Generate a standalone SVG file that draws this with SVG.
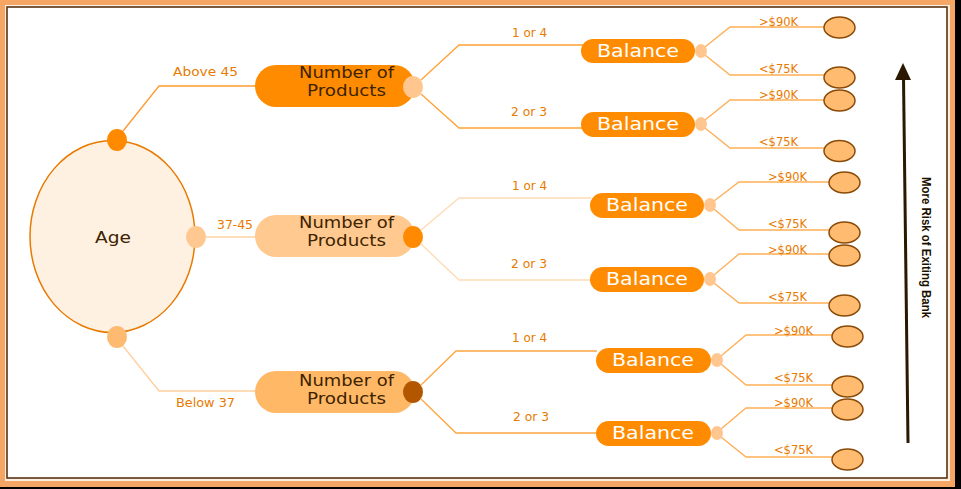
<svg xmlns="http://www.w3.org/2000/svg" width="961" height="489" viewBox="0 0 961 489">
<style>
.lbl{font-family:"DejaVu Sans",sans-serif;font-size:12px;fill:#E87A00;text-anchor:middle}
.leaf{font-family:"DejaVu Sans",sans-serif;font-size:12.5px;fill:#E87A00;text-anchor:middle}
.np{font-family:"DejaVu Sans",sans-serif;font-size:15.5px;fill:#3D2300;text-anchor:middle}
.bal{font-family:"DejaVu Sans",sans-serif;font-size:17.5px;fill:#FFFFFF;text-anchor:middle}
.bnode{fill:#FF8C00}
.bdot{fill:#FFC78F}
.leafE{fill:#FFBC70;stroke:#8A4A08;stroke-width:1.5}
.c{fill:none;stroke-width:1.3}
</style>
<rect x="0" y="0" width="961" height="489" fill="#000000"/>
<rect x="0" y="0" width="955" height="487" fill="#F6A664"/>
<rect x="5" y="5" width="945" height="476" fill="#FBEFE4"/>
<rect x="7" y="7" width="940" height="471" fill="#FFFFFF" stroke="#5A3210" stroke-width="1.6"/>

<g id="connectors">
  <polyline class="c" stroke="#FF9A30" points="123,131 159,86 256,86"/>
  <polyline class="c" stroke="#FFD2A4" points="205,237 256,237"/>
  <polyline class="c" stroke="#FFCE9E" points="123,346 159,391 256,391"/>

  <polyline class="c" stroke="#FFA235" points="421,80 459,45 583,45"/>
  <polyline class="c" stroke="#FFA235" points="421,94 459,128 583,128"/>
  <polyline class="c" stroke="#FFDAB4" points="421,230 459,198 591,198"/>
  <polyline class="c" stroke="#FFDAB4" points="421,244 459,280 591,280"/>
  <polyline class="c" stroke="#FFA540" points="421,385 456,351 597,351"/>
  <polyline class="c" stroke="#FFA540" points="421,399 456,433 597,433"/>

  <polyline class="c" stroke="#FFAE55" points="705,47 730,27 825,27"/>
  <polyline class="c" stroke="#FFAE55" points="705,55 730,75 825,75"/>
  <polyline class="c" stroke="#FFAE55" points="705,120 730,100 825,100"/>
  <polyline class="c" stroke="#FFAE55" points="705,128 730,148 825,148"/>
  <polyline class="c" stroke="#FFAE55" points="714,201 739,182 830,182"/>
  <polyline class="c" stroke="#FFAE55" points="714,209 739,230 830,230"/>
  <polyline class="c" stroke="#FFAE55" points="714,275 739,254 830,254"/>
  <polyline class="c" stroke="#FFAE55" points="714,283 739,303 830,303"/>
  <polyline class="c" stroke="#FFAE55" points="721,356 746,335 833,335"/>
  <polyline class="c" stroke="#FFAE55" points="721,364 746,385 833,385"/>
  <polyline class="c" stroke="#FFAE55" points="721,429 746,408 833,408"/>
  <polyline class="c" stroke="#FFAE55" points="721,437 746,457 833,457"/>
</g>

<g id="labels">
  <text class="lbl" x="205.5" y="76" textLength="65" lengthAdjust="spacingAndGlyphs">Above 45</text>
  <text class="lbl" x="235" y="229" textLength="36" lengthAdjust="spacingAndGlyphs">37-45</text>
  <text class="lbl" x="205.5" y="407" textLength="59" lengthAdjust="spacingAndGlyphs">Below 37</text>
  <text class="lbl" x="529.5" y="37" textLength="35" lengthAdjust="spacingAndGlyphs">1 or 4</text>
  <text class="lbl" x="529" y="116" textLength="36" lengthAdjust="spacingAndGlyphs">2 or 3</text>
  <text class="lbl" x="529.5" y="190" textLength="35" lengthAdjust="spacingAndGlyphs">1 or 4</text>
  <text class="lbl" x="529" y="268" textLength="36" lengthAdjust="spacingAndGlyphs">2 or 3</text>
  <text class="lbl" x="529.5" y="342" textLength="35" lengthAdjust="spacingAndGlyphs">1 or 4</text>
  <text class="lbl" x="531" y="421" textLength="36" lengthAdjust="spacingAndGlyphs">2 or 3</text>

  <text class="leaf" x="778.5" y="26" textLength="39" lengthAdjust="spacingAndGlyphs">&gt;$90K</text>
  <text class="leaf" x="778.5" y="73" textLength="39" lengthAdjust="spacingAndGlyphs">&lt;$75K</text>
  <text class="leaf" x="778.5" y="99" textLength="39" lengthAdjust="spacingAndGlyphs">&gt;$90K</text>
  <text class="leaf" x="778.5" y="146" textLength="39" lengthAdjust="spacingAndGlyphs">&lt;$75K</text>
  <text class="leaf" x="787.5" y="181" textLength="39" lengthAdjust="spacingAndGlyphs">&gt;$90K</text>
  <text class="leaf" x="787.5" y="228" textLength="39" lengthAdjust="spacingAndGlyphs">&lt;$75K</text>
  <text class="leaf" x="787.5" y="254" textLength="39" lengthAdjust="spacingAndGlyphs">&gt;$90K</text>
  <text class="leaf" x="787.5" y="301" textLength="39" lengthAdjust="spacingAndGlyphs">&lt;$75K</text>
  <text class="leaf" x="793.5" y="335" textLength="39" lengthAdjust="spacingAndGlyphs">&gt;$90K</text>
  <text class="leaf" x="793.5" y="382" textLength="39" lengthAdjust="spacingAndGlyphs">&lt;$75K</text>
  <text class="leaf" x="793.5" y="407" textLength="39" lengthAdjust="spacingAndGlyphs">&gt;$90K</text>
  <text class="leaf" x="793.5" y="454" textLength="39" lengthAdjust="spacingAndGlyphs">&lt;$75K</text>
</g>

<g id="age">
  <ellipse cx="112.5" cy="236.5" rx="82.5" ry="96" fill="#FFF1E2" stroke="#E87A00" stroke-width="1.5"/>
  <text class="np" x="113" y="243" font-size="17" textLength="36" lengthAdjust="spacingAndGlyphs">Age</text>
  <ellipse cx="117" cy="140" rx="10" ry="11" fill="#FF8A00"/>
  <ellipse cx="196" cy="237" rx="10" ry="11" fill="#FFC890"/>
  <ellipse cx="117" cy="337" rx="10" ry="11" fill="#FFBA72"/>
</g>

<g id="np1">
  <rect x="255" y="65" width="160" height="42" rx="21" fill="#FF8C00"/>
  <text class="np" x="346.5" y="78" textLength="95" lengthAdjust="spacingAndGlyphs">Number of</text>
  <text class="np" x="346.5" y="96" textLength="79" lengthAdjust="spacingAndGlyphs">Products</text>
  <ellipse cx="413" cy="87" rx="10" ry="11" fill="#FFC78F"/>
</g>
<g id="np2">
  <rect x="255" y="215" width="160" height="42" rx="21" fill="#FFC98F"/>
  <text class="np" x="346.5" y="228" textLength="95" lengthAdjust="spacingAndGlyphs">Number of</text>
  <text class="np" x="346.5" y="246" textLength="79" lengthAdjust="spacingAndGlyphs">Products</text>
  <ellipse cx="413" cy="237" rx="10" ry="11" fill="#FF8A00"/>
</g>
<g id="np3">
  <rect x="255" y="371" width="160" height="42" rx="21" fill="#FFB866"/>
  <text class="np" x="346.5" y="385.5" textLength="95" lengthAdjust="spacingAndGlyphs">Number of</text>
  <text class="np" x="346.5" y="403.5" textLength="79" lengthAdjust="spacingAndGlyphs">Products</text>
  <ellipse cx="413" cy="392" rx="10" ry="11" fill="#B35600"/>
</g>

<g id="bal1">
  <rect class="bnode" x="581" y="39" width="114" height="24" rx="12"/>
  <text class="bal" x="638" y="57" textLength="82" lengthAdjust="spacingAndGlyphs">Balance</text>
  <ellipse class="bdot" cx="701" cy="51" rx="6" ry="7"/>
</g>
<g id="bal2">
  <rect class="bnode" x="581" y="112" width="114" height="25" rx="12.5"/>
  <text class="bal" x="638" y="130" textLength="82" lengthAdjust="spacingAndGlyphs">Balance</text>
  <ellipse class="bdot" cx="701" cy="124" rx="6" ry="7"/>
</g>
<g id="bal3">
  <rect class="bnode" x="590" y="193" width="114" height="25" rx="12.5"/>
  <text class="bal" x="647" y="211" textLength="82" lengthAdjust="spacingAndGlyphs">Balance</text>
  <ellipse class="bdot" cx="710" cy="205" rx="6" ry="7"/>
</g>
<g id="bal4">
  <rect class="bnode" x="590" y="267" width="114" height="25" rx="12.5"/>
  <text class="bal" x="647" y="285" textLength="82" lengthAdjust="spacingAndGlyphs">Balance</text>
  <ellipse class="bdot" cx="710" cy="279" rx="6" ry="7"/>
</g>
<g id="bal5">
  <rect class="bnode" x="596" y="348" width="115" height="25" rx="12.5"/>
  <text class="bal" x="653" y="366" textLength="82" lengthAdjust="spacingAndGlyphs">Balance</text>
  <ellipse class="bdot" cx="717" cy="360" rx="6" ry="7"/>
</g>
<g id="bal6">
  <rect class="bnode" x="596" y="421" width="115" height="25" rx="12.5"/>
  <text class="bal" x="653" y="439" textLength="82" lengthAdjust="spacingAndGlyphs">Balance</text>
  <ellipse class="bdot" cx="717" cy="433" rx="6" ry="7"/>
</g>

<g id="leaves">
  <ellipse class="leafE" cx="839.5" cy="27.5" rx="15.5" ry="10.5"/>
  <ellipse class="leafE" cx="839.5" cy="77.5" rx="15.5" ry="10.5"/>
  <ellipse class="leafE" cx="839.5" cy="100.5" rx="15.5" ry="10.5"/>
  <ellipse class="leafE" cx="839.5" cy="151" rx="15.5" ry="10.5"/>
  <ellipse class="leafE" cx="844.5" cy="182.5" rx="15.5" ry="10.5"/>
  <ellipse class="leafE" cx="844.5" cy="232.5" rx="15.5" ry="10.5"/>
  <ellipse class="leafE" cx="844.5" cy="255.5" rx="15.5" ry="10.5"/>
  <ellipse class="leafE" cx="844.5" cy="305.5" rx="15.5" ry="10.5"/>
  <ellipse class="leafE" cx="847.5" cy="336.5" rx="15.5" ry="10.5"/>
  <ellipse class="leafE" cx="847.5" cy="386.5" rx="15.5" ry="10.5"/>
  <ellipse class="leafE" cx="847.5" cy="409.5" rx="15.5" ry="10.5"/>
  <ellipse class="leafE" cx="847.5" cy="459.5" rx="15.5" ry="10.5"/>
</g>

<g id="risk-arrow">
  <line x1="908" y1="443" x2="903.5" y2="78" stroke="#2A1800" stroke-width="3"/>
  <polygon points="903,63 895,80 911,80" fill="#2A1800"/>
  <text transform="translate(922,247.5) rotate(90)" x="0" y="0" font-family="'Liberation Sans',sans-serif" font-weight="bold" font-size="13.5" fill="#1A1000" text-anchor="middle" textLength="141" lengthAdjust="spacingAndGlyphs">More Risk of Exiting Bank</text>
</g>
</svg>
